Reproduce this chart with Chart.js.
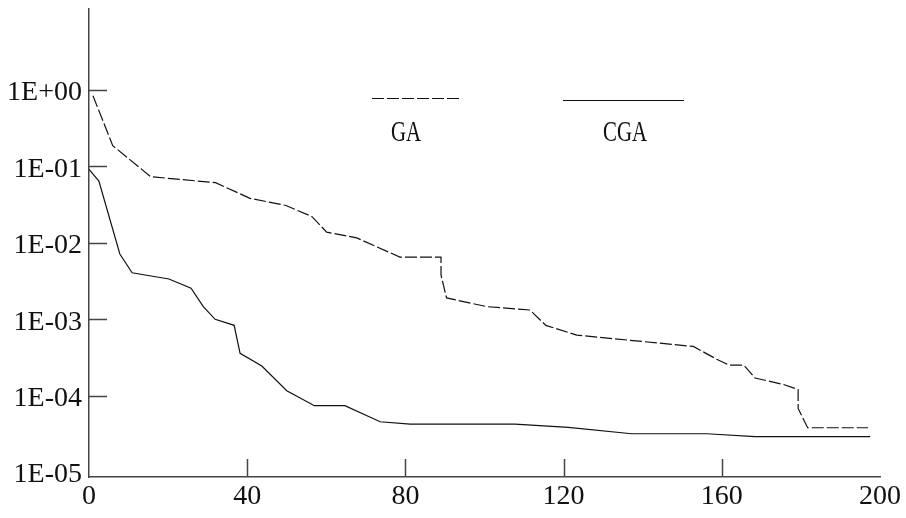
<!DOCTYPE html>
<html>
<head>
<meta charset="utf-8">
<script src="https://cdn.jsdelivr.net/npm/chart.js@4.4.1/dist/chart.umd.min.js"></script>
<style>
  html, body { margin: 0; padding: 0; background: #fff; }
  canvas { display: block; }
</style>
</head>
<body>
<canvas id="grafica" width="906" height="518"></canvas>
<script>
// curva GA (linea discontinua)
var gaX = [1, 6, 15.6, 32, 40.7, 49.8, 56.4, 60.1, 67.7, 78.6, 89, 89, 90.4, 100.6, 111.5, 115.5, 123.3, 152.8, 158.7, 161.9, 165.6, 168.4, 175.6, 179.3, 179.3, 181.7, 197];
var gaY = [0.842, 0.187, 0.0733, 0.0612, 0.0382, 0.0308, 0.022, 0.0138, 0.0116, 0.0065, 0.0065, 0.0038, 0.0019, 0.00146, 0.00132, 0.00083, 0.00062, 0.00044, 0.0003, 0.00025, 0.00025, 0.00017, 0.00014, 0.00012, 0.000068, 0.000038, 0.000038];

// curva CGA (linea continua)
var cgaX = [0, 2.5, 7.8, 10.9, 20.2, 25.8, 28.9, 31.9, 36.7, 38.2, 43.7, 50, 57, 64.7, 73.6, 81.2, 107.7, 121.2, 137.2, 156.2, 168.4, 197.5];
var cgaY = [0.0916, 0.0644, 0.00713, 0.00406, 0.00336, 0.00254, 0.00146, 0.000997, 0.000832, 0.000358, 0.000244, 0.000116, 0.0000738, 0.0000738, 0.0000455, 0.0000423, 0.0000423, 0.0000385, 0.0000317, 0.0000317, 0.000029, 0.000029];

// ejes
var xTicks = [0, 40, 80, 120, 160, 200];
var yTicks = [1e-5, 1e-4, 1e-3, 1e-2, 1e-1, 1];
var yTickLabels = ['1E-05', '1E-04', '1E-03', '1E-02', '1E-01', '1E+00'];

var fuente = { family: '"Liberation Serif", "DejaVu Serif", serif', size: 28 };

function puntos(xs, ys) {
	var res = [];
	for (var i = 0; i < xs.length; i++) {
		res.push({ x: xs[i], y: ys[i] });
	}
	return res;
}

// marcas de los ejes hacia dentro
const marcasInternas = {
	id: 'marcasInternas',
	afterDraw(chart) {
		const ctx = chart.ctx;
		const area = chart.chartArea;
		const sx = chart.scales.x;
		const sy = chart.scales.y;
		ctx.save();
		ctx.strokeStyle = '#444';
		ctx.lineWidth = 1.5;
		ctx.beginPath();
		sx.ticks.forEach(function (t) {
			if (t.value <= sx.min || t.value >= sx.max) return;
			var px = Math.round(sx.getPixelForValue(t.value)) + 0.5;
			ctx.moveTo(px, area.bottom);
			ctx.lineTo(px, area.bottom - 18);
		});
		sy.ticks.forEach(function (t, i) {
			if (i == 0) return; // la de 1E-05 queda sobre el eje
			var py = Math.round(sy.getPixelForValue(t.value)) + 0.5;
			ctx.moveTo(area.left, py);
			ctx.lineTo(area.left + 18, py);
		});
		ctx.stroke();
		ctx.restore();
	}
};

// leyenda: muestra de linea con el nombre debajo
const leyendaCurvas = {
	id: 'leyendaCurvas',
	afterDraw(chart, args, opts) {
		const ctx = chart.ctx;
		ctx.save();
		chart.data.datasets.forEach(function (ds, i) {
			var p = opts.items[i];
			ctx.strokeStyle = ds.borderColor;
			ctx.lineWidth = ds.borderWidth;
			ctx.setLineDash(ds.borderDash || []);
			ctx.beginPath();
			ctx.moveTo(p.x1, p.y);
			ctx.lineTo(p.x2, p.y);
			ctx.stroke();
			ctx.setLineDash([]);
			ctx.save();
			ctx.translate(p.tx, p.ty);
			ctx.scale(0.72, 1);
			ctx.fillStyle = '#111';
			ctx.font = '29px "Liberation Serif", serif';
			ctx.textAlign = 'center';
			ctx.textBaseline = 'middle';
			ctx.fillText(ds.label, 0, 0);
			ctx.restore();
		});
		ctx.restore();
	}
};

const config = {
	type: 'line',
	data: {
		datasets: [{
			label: 'GA',
			data: puntos(gaX, gaY),
			borderColor: '#111',
			borderWidth: 1.2,
			borderDash: [12, 3],
			pointRadius: 0,
			tension: 0,
			fill: false
		}, {
			label: 'CGA',
			data: puntos(cgaX, cgaY),
			borderColor: '#111',
			borderWidth: 1.2,
			pointRadius: 0,
			tension: 0,
			fill: false
		}]
	},
	options: {
		responsive: false,
		animation: false,
		devicePixelRatio: 1,
		layout: { padding: { top: 9, right: 26, left: 0, bottom: 0 } },
		plugins: {
			legend: { display: false },
			tooltip: { enabled: false },
			leyendaCurvas: {
				items: [
					{ x1: 372, x2: 460, y: 98.5, tx: 406, ty: 133 },
					{ x1: 563, x2: 684, y: 100.5, tx: 625, ty: 133 }
				]
			}
		},
		scales: {
			x: {
				type: 'linear',
				min: 0,
				max: 200,
				afterBuildTicks: function (scale) {
					scale.ticks = xTicks.map(function (v) { return { value: v }; });
				},
				afterFit: function (scale) { scale.height = 41; },
				grid: { display: false },
				border: { display: true, color: '#444', width: 1.5 },
				ticks: {
					font: fuente,
					color: '#111',
					padding: -5,
					maxRotation: 0,
					autoSkip: false
				}
			},
			y: {
				type: 'logarithmic',
				min: Math.pow(10, -5.065),
				max: Math.pow(10, 1.06),
				afterBuildTicks: function (scale) {
					scale.ticks = yTicks.map(function (v) { return { value: v }; });
				},
				afterFit: function (scale) {
					scale.width = 89;
					scale.paddingTop = 0;
					scale.paddingBottom = 0;
				},
				grid: { display: false },
				border: { display: true, color: '#444', width: 1.5 },
				ticks: {
					font: fuente,
					color: '#111',
					padding: -1,
					labelOffset: 3,
					autoSkip: false,
					callback: function (value, index) { return yTickLabels[index]; }
				}
			}
		}
	},
	plugins: [marcasInternas, leyendaCurvas]
};

const myChart = new Chart(document.getElementById('grafica'), config);
</script>
</body>
</html>
